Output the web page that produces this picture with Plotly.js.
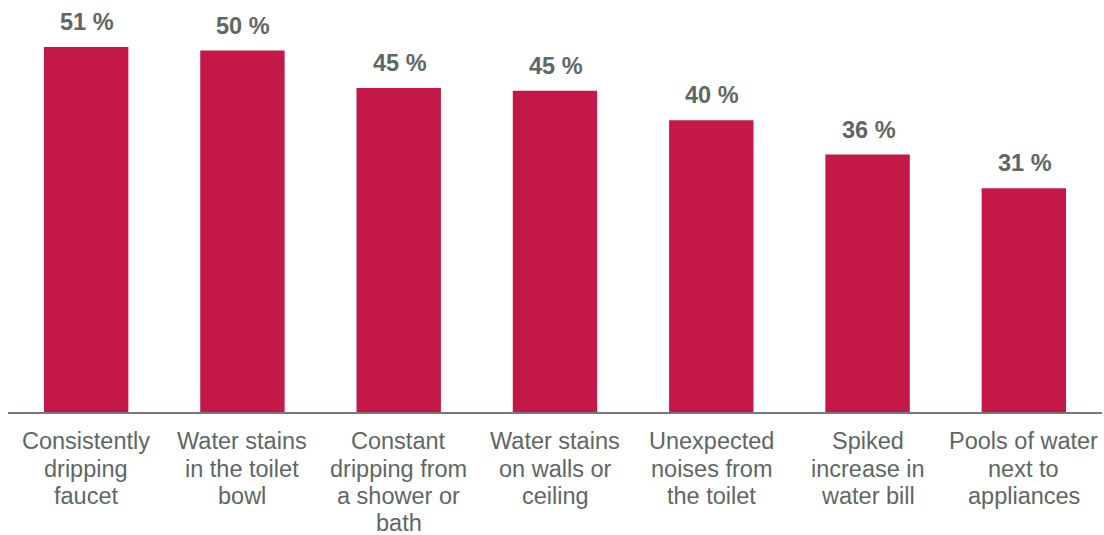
<!DOCTYPE html>
<html>
<head>
<meta charset="utf-8">
<script src="https://cdn.plot.ly/plotly-3.0.1.min.js"></script>
<style>html,body{margin:0;padding:0;background:#fff;}#chart{width:1104px;height:535px;}</style>
</head>
<body>
<div id="chart"></div>
<script>
var categories = ["Consistently dripping faucet", "Water stains in the toilet bowl", "Constant dripping from a shower or bath", "Water stains on walls or ceiling", "Unexpected noises from the toilet", "Spiked increase in water bill", "Pools of water next to appliances"];
var labelLines = [
  ["Consistently", "dripping", "faucet"],
  ["Water stains", "in the toilet", "bowl"],
  ["Constant", "dripping from", "a shower or", "bath"],
  ["Water stains", "on walls or", "ceiling"],
  ["Unexpected", "noises from", "the toilet"],
  ["Spiked", "increase in", "water bill"],
  ["Pools of water", "next to", "appliances"]
];
var values = [50.9, 50.4, 45.2, 44.8, 40.7, 35.9, 31.2];
var valueLabels = ["51 %", "50 %", "45 %", "45 %", "40 %", "36 %", "31 %"];

var barColor = "#C41848";
var textGray = "#5e6764";
var font = "Liberation Sans, Arial, sans-serif";

var annotations = [];
categories.forEach(function (c, i) {
  annotations.push({
    x: c, y: values[i], xref: "x", yref: "y",
    text: "<b>" + valueLabels[i] + "</b>", showarrow: false,
    yanchor: "middle", xanchor: "center", yshift: 25, xshift: 1,
    font: {family: font, size: 23.5, color: textGray}
  });
  labelLines[i].forEach(function (line, j) {
    annotations.push({
      x: c, y: 0, xref: "x", yref: "y",
      text: line, showarrow: false, borderpad: 0,
      yanchor: "middle", xanchor: "center", yshift: -29.3 - j * 27.2,
      font: {family: font, size: 23.5, color: textGray}
    });
  });
});

var data = [{
  type: "bar",
  x: categories,
  y: values,
  marker: {color: barColor, line: {width: 0}},
  hoverinfo: "none"
}];

var layout = {
  width: 1104, height: 535,
  margin: {l: 8, r: 2, t: 0, b: 123},
  paper_bgcolor: "#ffffff", plot_bgcolor: "#ffffff",
  bargap: 0.46,
  showlegend: false,
  font: {family: font},
  xaxis: {
    type: "category", showticklabels: false, ticks: "",
    showline: true, linecolor: "#737a78", linewidth: 2,
    showgrid: false, zeroline: false, fixedrange: true
  },
  yaxis: {
    range: [0, 57.46], visible: false, showgrid: false, zeroline: false, fixedrange: true
  },
  annotations: annotations
};

Plotly.newPlot("chart", data, layout, {displayModeBar: false, staticPlot: true});
</script>
</body>
</html>
